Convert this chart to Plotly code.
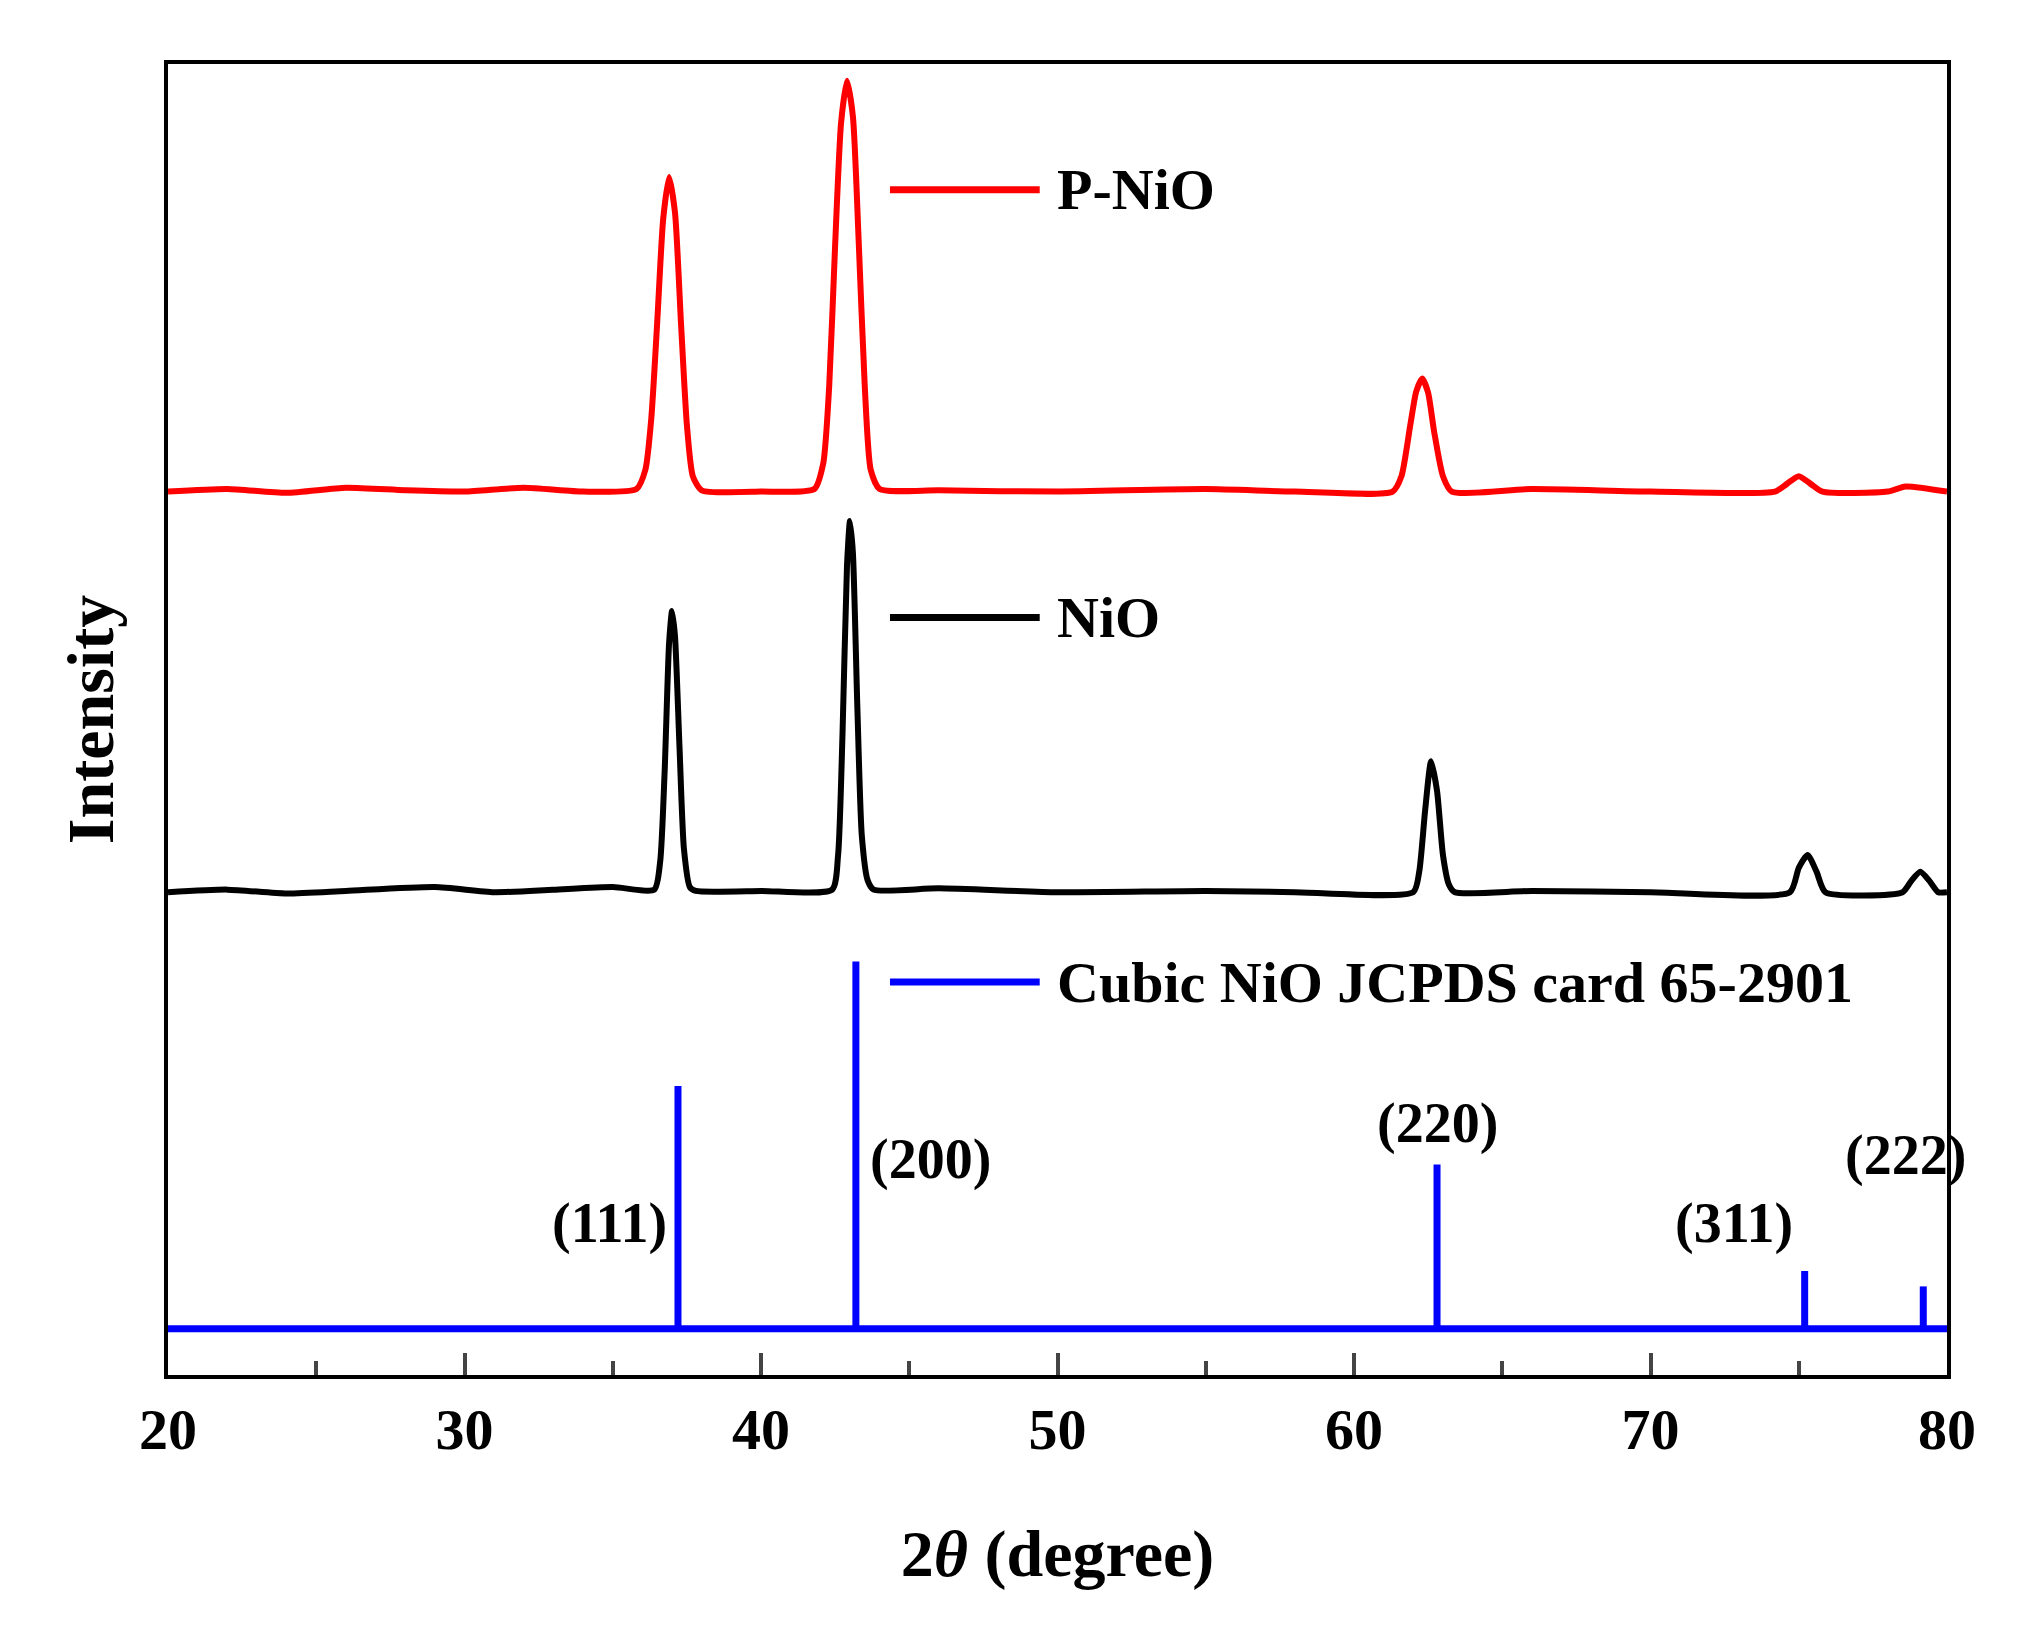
import plotly.graph_objects as go

# P-NiO curve (arbitrary intensity units)
pnio_x = [20, 22, 24, 26, 28, 30, 32, 34, 35.8, 36.1, 36.3, 36.5, 36.7, 36.9, 37.1, 37.3, 37.5, 37.7, 38.0, 40,
          41.8, 42.1, 42.3, 42.5, 42.7, 42.9, 43.1, 43.3, 43.5, 43.7, 44.0,
          46, 50, 55, 58, 61.3, 61.6, 61.9, 62.1, 62.3, 62.5, 62.7, 63.0, 63.3, 66, 70,
          74.2, 74.6, 75.0, 75.4, 75.8, 78, 78.6, 80]
pnio_y = [688, 690, 687, 691, 689, 688, 691, 688, 690, 705, 745, 820, 900, 933, 905, 820, 740, 700, 689, 688,
          690, 710, 770, 880, 975, 1008, 980, 880, 770, 705, 690,
          689, 688, 690, 688, 688, 700, 740, 766, 776, 765, 735, 700, 688, 690, 688,
          688, 694, 700, 694, 688, 688, 692, 688]

# NiO curve
nio_x = [20, 22, 24, 26, 29, 31, 33, 35, 36.4, 36.6, 36.75, 36.9, 37.0, 37.1, 37.25, 37.4, 37.6, 37.8, 40,
         42.4, 42.6, 42.75, 42.9, 43.0, 43.1, 43.25, 43.4, 43.6, 43.8,
         46, 50, 55, 58, 62.0, 62.2, 62.4, 62.6, 62.8, 63.0, 63.2, 63.4, 66, 70,
         74.7, 75.0, 75.3, 75.6, 75.9, 78.5, 78.8, 79.1, 79.4, 79.7, 80]
nio_y = [376, 378, 375, 377, 380, 376, 378, 380, 378, 400, 470, 570, 595, 575, 490, 410, 380, 377, 377,
         378, 405, 500, 630, 665, 640, 520, 420, 385, 378,
         379, 376, 377, 376, 376, 392, 440, 478, 455, 405, 382, 376, 377, 376,
         376, 395, 405, 392, 376, 376, 385, 392, 385, 376, 376]

# JCPDS reference sticks
ref_base = 36
ref_pos = [37.2, 43.2, 62.8, 75.2, 79.2]
ref_top = [225, 322, 164, 81, 69]
hkl = ["(111)", "(200)", "(220)", "(311)", "(222)"]
hkl_x = [34.9, 45.7, 62.8, 72.8, 78.6]
hkl_y = [118, 168, 196, 118, 171]

FONT = "Liberation Serif"

sx, sy = [20, 80], [ref_base, ref_base]
for p, t in zip(ref_pos, ref_top):
    sx += [None, p, p]
    sy += [None, ref_base, t]

fig = go.Figure()
fig.add_trace(go.Scatter(x=pnio_x, y=pnio_y, mode="lines", line=dict(color="#ff0000", width=6, shape="spline", smoothing=0.6)))
fig.add_trace(go.Scatter(x=nio_x, y=nio_y, mode="lines", line=dict(color="#000000", width=6, shape="spline", smoothing=0.6)))
fig.add_trace(go.Scatter(x=sx, y=sy, mode="lines", line=dict(color="#0000ff", width=7)))

legend = [("P-NiO", "#ff0000", 923), ("NiO", "#000000", 590), ("Cubic NiO JCPDS card 65-2901", "#0000ff", 306)]
for name, col, yy in legend:
    fig.add_shape(type="line", x0=44.35, x1=49.4, y0=yy, y1=yy, line=dict(color=col, width=7))
    fig.add_annotation(x=49.9, y=yy, text="<b>%s</b>" % name, showarrow=False, xanchor="left",
                       font=dict(family=FONT, size=58, color="black"))
for t, x, y in zip(hkl, hkl_x, hkl_y):
    fig.add_annotation(x=x, y=y, text="<b>%s</b>" % t, showarrow=False,
                       font=dict(family=FONT, size=56, color="black"))

fig.update_layout(
    width=2019, height=1642, plot_bgcolor="white", paper_bgcolor="white",
    showlegend=False, margin=dict(l=160, r=80, t=56, b=275),
    font=dict(family=FONT, size=56, color="black"),
)
fig.update_xaxes(range=[20, 80], dtick=10, ticks="inside", ticklen=22, tickwidth=4,
                 minor=dict(dtick=5, ticks="inside", ticklen=14, tickwidth=4),
                 showline=True, linewidth=4, linecolor="black", mirror=True, showgrid=False, zeroline=False,
                 tickfont=dict(family=FONT, size=58), tickprefix="<b>", ticksuffix="</b>",
                 title=dict(text="<b>2<i>θ</i> (degree)</b>", font=dict(family=FONT, size=66), standoff=70))
fig.update_yaxes(range=[0, 1021], showticklabels=False, ticks="",
                 showline=True, linewidth=4, linecolor="black", mirror=True, showgrid=False, zeroline=False,
                 title=dict(text="<b>Intensity</b>", font=dict(family=FONT, size=66), standoff=30))
fig.write_html("out.html")
